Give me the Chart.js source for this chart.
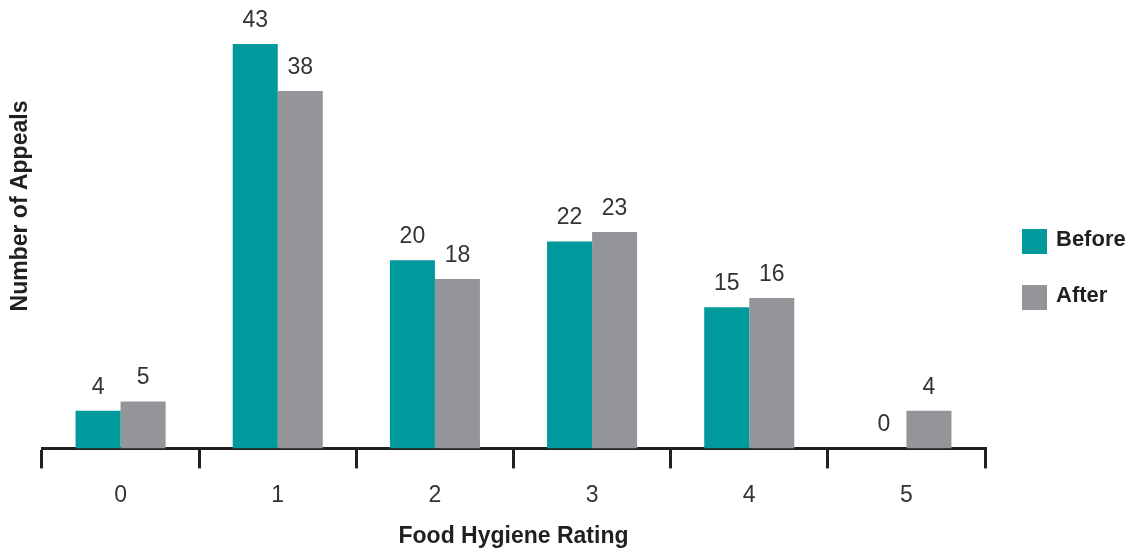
<!DOCTYPE html>
<html>
<head>
<meta charset="utf-8">
<script src="https://cdn.jsdelivr.net/npm/chart.js@4"></script>
<style>
html,body{margin:0;padding:0;background:#fff;}
#wrap{width:1133px;height:549px;position:relative;}
</style>
</head>
<body>
<div id="wrap"><canvas id="c" width="1133" height="549"></canvas></div>
<script>
const categories = ['0', '1', '2', '3', '4', '5'];
const beforeValues = [4, 43, 20, 22, 15, 0];
const afterValues = [5, 38, 18, 23, 16, 4];
const seriesNames = ['Before', 'After'];
const xTitle = 'Food Hygiene Rating';
const yTitle = 'Number of Appeals';

const TEAL = '#00999c';
const GRAY = '#939598';
const DARK = '#231f20';
const TXT = '#333333';

const valueLabels = {
  id: 'valueLabels',
  afterDatasetsDraw(chart) {
    const ctx = chart.ctx;
    ctx.save();
    ctx.font = '23px "Liberation Sans", Arial, sans-serif';
    ctx.fillStyle = TXT;
    ctx.textAlign = 'center';
    ctx.textBaseline = 'alphabetic';
    chart.data.datasets.forEach((ds, i) => {
      const meta = chart.getDatasetMeta(i);
      meta.data.forEach((bar, j) => {
        ctx.fillText(String(ds.data[j]), bar.x, bar.y - 17);
      });
    });
    ctx.restore();
  }
};

const extras = {
  id: 'extras',
  afterDraw(chart) {
    const ctx = chart.ctx;
    ctx.save();
    // y title
    ctx.font = 'bold 23px "Liberation Sans", Arial, sans-serif';
    ctx.fillStyle = DARK;
    ctx.translate(21, 206);
    ctx.rotate(-Math.PI / 2);
    ctx.textAlign = 'center';
    ctx.textBaseline = 'middle';
    ctx.fillText(yTitle, 0, 0);
    ctx.restore();
    // legend
    ctx.save();
    const colors = [TEAL, GRAY];
    const ys = [229, 285];
    ctx.font = 'bold 22px "Liberation Sans", Arial, sans-serif';
    ctx.textBaseline = 'middle';
    ctx.textAlign = 'left';
    seriesNames.forEach((n, i) => {
      ctx.fillStyle = colors[i];
      ctx.fillRect(1022, ys[i], 25, 25);
      ctx.fillStyle = DARK;
      ctx.fillText(n, 1056, ys[i] + 11);
    });
    ctx.restore();
  }
};

new Chart(document.getElementById('c'), {
  type: 'bar',
  data: {
    labels: categories,
    datasets: [
      { label: seriesNames[0], data: beforeValues, backgroundColor: TEAL, borderWidth: 0 },
      { label: seriesNames[1], data: afterValues, backgroundColor: GRAY, borderWidth: 0 }
    ]
  },
  options: {
    responsive: false,
    animation: false,
    devicePixelRatio: 1,
    layout: { padding: { left: 42, right: 148, top: 44, bottom: -1 } },
    plugins: {
      legend: { display: false },
      tooltip: { enabled: false }
    },
    datasets: { bar: { categoryPercentage: 0.573, barPercentage: 1 } },
    scales: {
      y: { display: false, min: 0, max: 43 },
      x: {
        offset: true,
        grid: {
          offset: true,
          drawOnChartArea: false,
          drawTicks: true,
          tickLength: 20,
          tickColor: DARK,
          lineWidth: 3
        },
        border: { display: true, color: DARK, width: 3 },
        ticks: {
          padding: 16,
          color: TXT,
          font: { family: '"Liberation Sans", Arial, sans-serif', size: 23, lineHeight: 1 }
        },
        title: {
          display: true,
          text: xTitle,
          color: DARK,
          padding: { top: -1, bottom: 0 },
          font: { family: '"Liberation Sans", Arial, sans-serif', size: 23, weight: 'bold' }
        }
      }
    }
  },
  plugins: [valueLabels, extras]
});
</script>
</body>
</html>
